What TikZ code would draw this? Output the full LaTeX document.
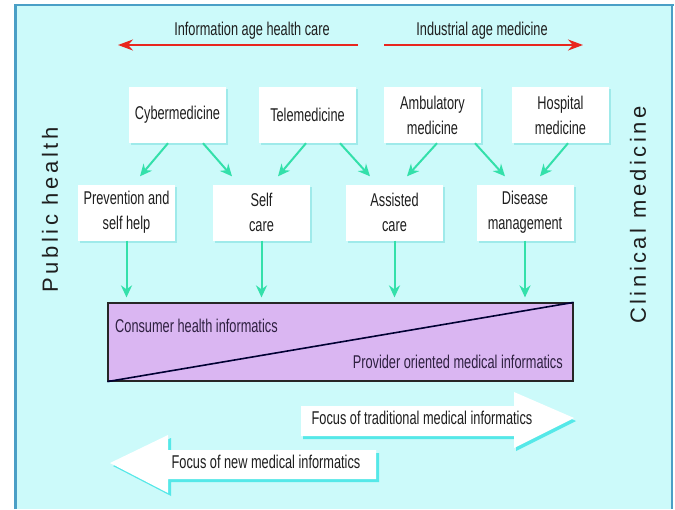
\documentclass[tikz,border=0pt]{standalone}
\usepackage{fontspec}
\setmainfont{Liberation Sans}
\newfontfamily\narrowfont[FakeStretch=0.69]{Liberation Sans}
\newfontfamily\widefont[LetterSpace=16]{Liberation Sans}
\usetikzlibrary{arrows.meta,calc}
\definecolor{bgcyan}{HTML}{CCFAFA}
\definecolor{framecol}{HTML}{4A9FC6}
\definecolor{shadowcyan}{HTML}{9FEAEA}
\definecolor{arrowgreen}{HTML}{33E0AA}
\definecolor{redarrow}{HTML}{E8261E}
\definecolor{barpurple}{HTML}{DAB6F2}
\definecolor{blockshadow}{HTML}{55E8E8}
\definecolor{txt}{HTML}{1E1E1E}
\definecolor{bartxt}{HTML}{2E2040}
\begin{document}
\begin{tikzpicture}[x=1pt,y=-1pt,
  boxnode/.style={fill=white,minimum width=97pt,minimum height=56pt,inner sep=0pt,
    align=center,text=txt,font=\narrowfont\fontsize{18.5}{25}\selectfont},
  greenarrow/.style={arrowgreen,line width=2pt,-{Stealth[length=12pt,width=11pt]}},
  redline/.style={redarrow,line width=2pt,-{Stealth[length=15pt,width=11pt]}},
  labeltext/.style={text=txt,font=\narrowfont\fontsize{18.5}{20}\selectfont,inner sep=0pt},
  bartext/.style={text=bartxt,font=\narrowfont\fontsize{18.5}{20}\selectfont,inner sep=0pt},
  sidetext/.style={text=txt,font=\widefont\fontsize{22}{26}\selectfont,inner sep=0pt,rotate=90}
]
\useasboundingbox (0,0) rectangle (675,509);
\fill[white] (0,0) rectangle (675,509);
% frame
\fill[bgcyan] (14,4) rectangle (673,509);
\draw[framecol,line width=3pt] (15.5,509) -- (15.5,4);
\draw[framecol,line width=2.5pt] (14,5.2) -- (673.5,5.2);
\draw[framecol,line width=2.5pt] (672.2,4) -- (672.2,509);

% red arrows
\coordinate (la) at (358,45); \coordinate (lb) at (118,45);
\coordinate (ra) at (384,45); \coordinate (rb) at (583,45);
\draw[redline] (la) -- (lb);
\draw[redline] (ra) -- (rb);
\node[labeltext] (infoage) at (252,31) {Information age health care};
\node[labeltext] (indage) at (482,31) {Industrial age medicine};

% side labels
\node[sidetext] (public) at (50,210) {Public health};
\node[sidetext] (clinical) at (638,215) {Clinical medicine};

% box shadows
\foreach \cx/\cy in {177.5/115,307.5/115,432.5/115,560.5/115,126.5/212.5,261.5/212.5,394.5/212.5,525/212.5}{
  \fill[shadowcyan] (\cx-48.5+2,\cy-28+2) rectangle (\cx+48.5+2,\cy+28+2);
}
% top row
\node[boxnode] (cyber) at (177.5,115) {Cybermedicine};
\node[boxnode] (tele) at (307.5,115) {Telemedicine};
\node[boxnode] (amb) at (432.5,115) {Ambulatory\\medicine};
\node[boxnode] (hosp) at (560.5,115) {Hospital\\medicine};
% second row
\node[boxnode] (prev) at (126.5,212.5) {Prevention and\\self help};
\node[boxnode] (self) at (261.5,212.5) {Self\\care};
\node[boxnode] (assist) at (394.5,212.5) {Assisted\\care};
\node[boxnode] (dis) at (525,212.5) {Disease\\management};

% green arrows
\draw[greenarrow] ([xshift=-9.5pt]cyber.south) -- ([xshift=13.5pt,yshift=8pt]prev.north);
\draw[greenarrow] ([xshift=25.5pt]cyber.south) -- ([xshift=-29.5pt,yshift=8pt]self.north);
\draw[greenarrow] ([xshift=-1.5pt]tele.south) -- ([xshift=16.5pt,yshift=8pt]self.north);
\draw[greenarrow] ([xshift=32.5pt]tele.south) -- ([xshift=-24.5pt,yshift=8pt]assist.north);
\draw[greenarrow] ([xshift=4.5pt]amb.south) -- ([xshift=12.5pt,yshift=8pt]assist.north);
\draw[greenarrow] ([xshift=42.5pt]amb.south) -- ([xshift=-20pt,yshift=8pt]dis.north);
\draw[greenarrow] ([xshift=7.5pt]hosp.south) -- ([xshift=15pt,yshift=8pt]dis.north);

% bar
\node[fill=barpurple,draw=black!85,line width=1.2pt,minimum width=465pt,minimum height=78pt,inner sep=0pt] (bar) at (340.5,342) {};
\draw[black!80!blue,line width=1.6pt] (bar.south west) -- (bar.north east);
\node[bartext,anchor=west] (consumer) at (115,326) {Consumer health informatics};
\node[bartext,anchor=east] (provider) at (563,362) {Provider oriented medical informatics};

% vertical green arrows
\foreach \n in {prev,self,assist,dis}{
  \draw[greenarrow,shorten >=5pt] (\n.south) -- (\n.south |- bar.north);
}

% block arrows
\fill[blockshadow] (303,409) -- (516,409) -- (516,395) -- (576,421) -- (516,451) -- (516,439) -- (303,439) -- cycle;
\fill[white] (301,406) -- (514,406) -- (514,392) -- (574,418) -- (514,448) -- (514,436) -- (301,436) -- cycle;
\node[labeltext] (trad) at (422,418) {Focus of traditional medical informatics};

\fill[blockshadow] (113,466) -- (171,438) -- (171,453) -- (379,453) -- (379,482) -- (171,482) -- (171,496) -- cycle;
\fill[white] (110,463) -- (168,435) -- (168,450) -- (376,450) -- (376,479) -- (168,479) -- (168,493) -- cycle;
\node[labeltext] (newfocus) at (266,462) {Focus of new medical informatics};
\end{tikzpicture}
\end{document}
